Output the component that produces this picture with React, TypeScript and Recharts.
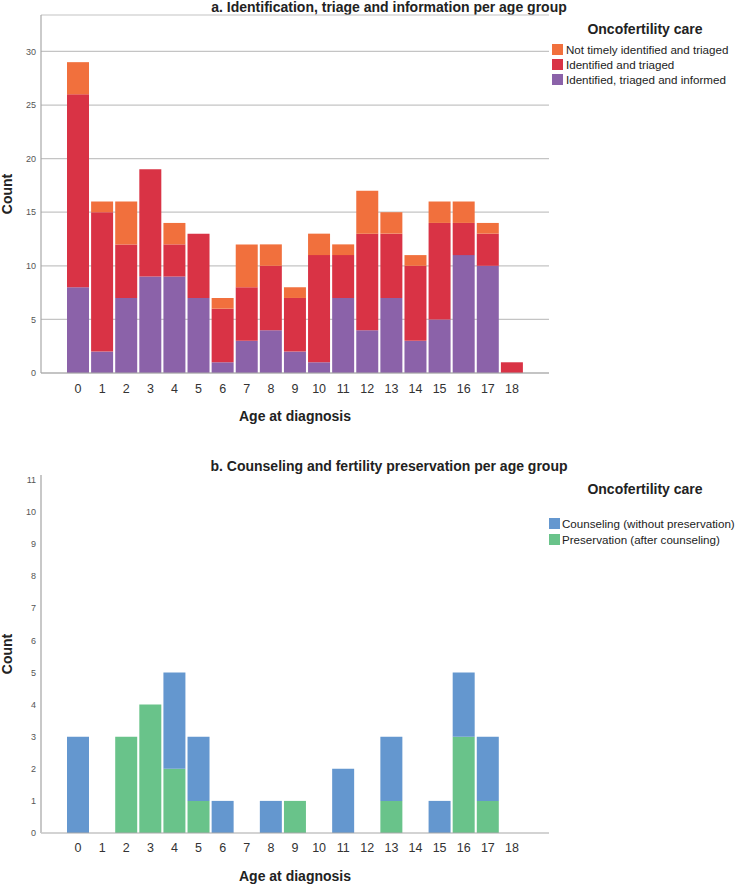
import React from 'react';
import { BarChart, Bar, XAxis, YAxis, CartesianGrid, Legend } from 'recharts';

const ages = ['0', '1', '2', '3', '4', '5', '6', '7', '8', '9', '10', '11', '12', '13', '14', '15', '16', '17', '18'];
const informed = [8, 2, 7, 9, 9, 7, 1, 3, 4, 2, 1, 7, 4, 7, 3, 5, 11, 10, 0];
const triaged = [18, 13, 5, 10, 3, 6, 5, 5, 6, 5, 10, 4, 9, 6, 7, 9, 3, 3, 1];
const notTimely = [3, 1, 4, 0, 2, 0, 1, 4, 2, 1, 2, 1, 4, 2, 1, 2, 2, 1, 0];
const counselingOnly = [3, 0, 0, 0, 3, 2, 1, 0, 1, 0, 0, 2, 0, 2, 0, 1, 2, 2, 0];
const preservation = [0, 0, 3, 4, 2, 1, 0, 0, 0, 1, 0, 0, 0, 1, 0, 0, 3, 1, 0];
const ticksA = [0, 5, 10, 15, 20, 25, 30];
const ticksB = [0, 1, 2, 3, 4, 5, 6, 7, 8, 9, 10, 11];

const ORANGE = '#f1703d';
const RED = '#d93345';
const PURPLE = '#8b62a9';
const BLUE = '#6497cf';
const GREEN = '#69c38a';

const FONT = '"Liberation Sans", Arial, sans-serif';

const dataA = ages.map((a, i) => ({ age: a, informed: informed[i], triaged: triaged[i], notTimely: notTimely[i] }));
const dataB = ages.map((a, i) => ({ age: a, counseling: counselingOnly[i], preservation: preservation[i] }));

const legendA = [
  { label: 'Not timely identified and triaged', color: ORANGE },
  { label: 'Identified and triaged', color: RED },
  { label: 'Identified, triaged and informed', color: PURPLE },
];
const legendB = [
  { label: 'Counseling (without preservation)', color: BLUE },
  { label: 'Preservation (after counseling)', color: GREEN },
];

function LegendBox({ items, gap, rowH, swLeft, textGap }: any) {
  return (
    <div style={{ fontFamily: FONT, width: 189 }}>
      <div style={{ fontSize: 14, fontWeight: 'bold', lineHeight: '16px', color: '#222', textAlign: 'center', paddingLeft: 3 }}>
        Oncofertility care
      </div>
      <div style={{ height: gap }} />
      {items.map((it: any) => (
        <div key={it.label} style={{ display: 'flex', alignItems: 'center', height: rowH }}>
          <div style={{ width: 11, height: 11, background: it.color, marginLeft: swLeft, marginRight: textGap, flexShrink: 0 }} />
          <span style={{ fontSize: 11.6, color: '#222', whiteSpace: 'nowrap' }}>{it.label}</span>
        </div>
      ))}
    </div>
  );
}

const titleStyle: React.CSSProperties = {
  position: 'absolute',
  left: 389,
  transform: 'translateX(-50%)',
  whiteSpace: 'nowrap',
  fontFamily: FONT,
  fontSize: 14,
  fontWeight: 'bold',
  lineHeight: '16px',
  color: '#222',
};

export default function App() {
  return (
    <div style={{ position: 'absolute', left: 0, top: 0, width: 738, height: 884, background: '#fff', fontFamily: FONT }}>
      <div style={{ ...titleStyle, top: -1 }}>a. Identification, triage and information per age group</div>
      <div style={{ position: 'absolute', left: 0, top: 0 }}>
        <BarChart width={738} height={430} data={dataA} margin={{ top: 15, right: 189, left: 0, bottom: 0 }} barSize={22}>
          <CartesianGrid horizontal vertical={false} stroke="#c4c4c4" strokeWidth={1.2} />
          <XAxis
            dataKey="age"
            type="category"
            interval={0}
            height={57}
            padding={{ left: 25, right: 25 }}
            tickLine={false}
            tickSize={0}
            tickMargin={11}
            axisLine={{ stroke: '#a8a8a8', strokeWidth: 1.2 }}
            tick={{ fontSize: 12.5, fill: '#333', fontFamily: FONT }}
            label={{ value: 'Age at diagnosis', position: 'insideBottom', offset: 9, style: { fontSize: 14, fontWeight: 'bold', fill: '#222', fontFamily: FONT } }}
          />
          <YAxis
            width={41}
            domain={[0, 33.4]}
            ticks={ticksA}
            interval={0}
            tickLine={false}
            tickSize={0}
            tickMargin={5}
            axisLine={{ stroke: '#a8a8a8', strokeWidth: 1.2 }}
            tick={{ fontSize: 9, fill: '#555', fontFamily: FONT }}
            label={{ value: 'Count', angle: -90, position: 'insideLeft', offset: 7, style: { textAnchor: 'middle', fontSize: 14, fontWeight: 'bold', fill: '#222', fontFamily: FONT } }}
          />
          <Legend
            layout="vertical"
            align="center"
            verticalAlign="middle"
            wrapperStyle={{ left: 549, top: 21, width: 189 }}
            content={() => <LegendBox items={legendA} gap={5} rowH={15} swLeft={3} textGap={3} />}
          />
          <Bar dataKey="informed" stackId="a" fill={PURPLE} isAnimationActive={false} />
          <Bar dataKey="triaged" stackId="a" fill={RED} isAnimationActive={false} />
          <Bar dataKey="notTimely" stackId="a" fill={ORANGE} isAnimationActive={false} />
        </BarChart>
      </div>
      <div style={{ ...titleStyle, top: 458 }}>b. Counseling and fertility preservation per age group</div>
      <div style={{ position: 'absolute', left: 0, top: 440 }}>
        <BarChart width={738} height={444} data={dataB} margin={{ top: 35, right: 189, left: 0, bottom: 0 }} barSize={22}>
          <XAxis
            dataKey="age"
            type="category"
            interval={0}
            height={51}
            padding={{ left: 25, right: 25 }}
            tickLine={false}
            tickSize={0}
            tickMargin={10}
            axisLine={{ stroke: '#a8a8a8', strokeWidth: 1.2 }}
            tick={{ fontSize: 12.5, fill: '#333', fontFamily: FONT }}
            label={{ value: 'Age at diagnosis', position: 'insideBottom', offset: 3, style: { fontSize: 14, fontWeight: 'bold', fill: '#222', fontFamily: FONT } }}
          />
          <YAxis
            width={41}
            domain={[0, 11.15]}
            ticks={ticksB}
            interval={0}
            tickLine={false}
            tickSize={0}
            tickMargin={5}
            axisLine={{ stroke: '#c8c8c8', strokeWidth: 2 }}
            tick={{ fontSize: 9, fill: '#555', fontFamily: FONT }}
            label={{ value: 'Count', angle: -90, position: 'insideLeft', offset: 7, style: { textAnchor: 'middle', fontSize: 14, fontWeight: 'bold', fill: '#222', fontFamily: FONT } }}
          />
          <Legend
            layout="vertical"
            align="center"
            verticalAlign="middle"
            wrapperStyle={{ left: 549, top: 41, width: 189 }}
            content={() => <LegendBox items={legendB} gap={19} rowH={15.5} swLeft={0} textGap={2} />}
          />
          <Bar dataKey="preservation" stackId="b" fill={GREEN} isAnimationActive={false} />
          <Bar dataKey="counseling" stackId="b" fill={BLUE} isAnimationActive={false} />
        </BarChart>
      </div>
    </div>
  );
}
